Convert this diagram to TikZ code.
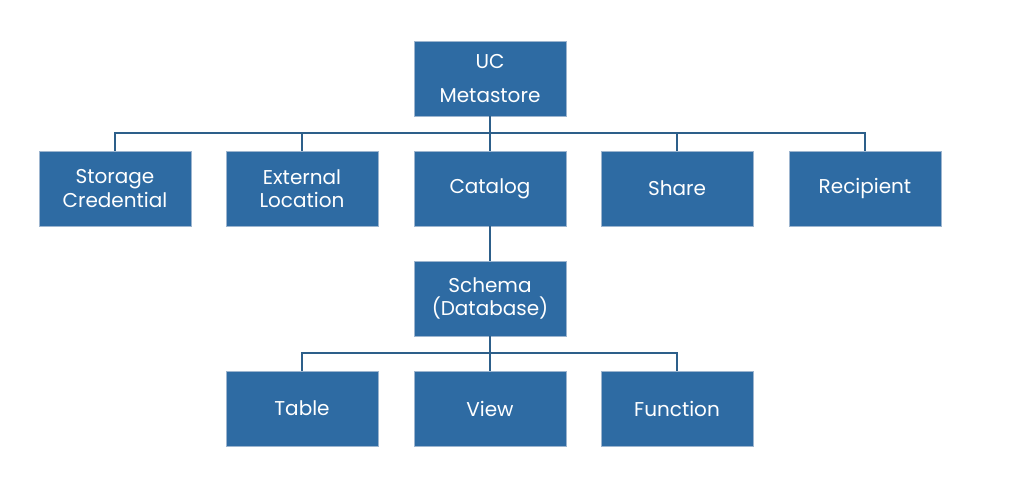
\documentclass[tikz,border=0pt]{standalone}
\usepackage{fontspec}
\setmainfont{Poppins}
\definecolor{boxblue}{HTML}{2E6BA3}
\definecolor{boxedge}{HTML}{9DB5CF}
\definecolor{linkblue}{HTML}{2D5F8A}
\tikzset{
  ucbox/.style={draw=boxedge,line width=0.5pt,fill=boxblue,text=white,minimum width=114pt,minimum height=56.25pt,inner sep=0.75pt,align=center,font=\fontsize{15}{17.5}\selectfont},
  uclink/.style={draw=linkblue,line width=1.5pt}
}
\begin{document}
\begin{tikzpicture}[x=0.75pt,y=0.75pt,yscale=-1,xscale=1]
\useasboundingbox (0,0) rectangle (1025,492);

% Root
\node [ucbox,font=\fontsize{15}{25}\selectfont] (metastore) at (490,78.5) {UC\\Metastore};

% Second level
\node [ucbox] (storage) at (115,188.5) {Storage\\Credential};
\node [ucbox] (extloc) at (302,188.5) {External\\Location};
\node [ucbox] (catalog) at (490,188.5) {Catalog};
\node [ucbox] (share) at (677,188.5) {Share};
\node [ucbox] (recipient) at (865,188.5) {Recipient};

% Schema
\node [ucbox] (schema) at (490,298.5) {Schema\\(Database)};

% Leaves
\node [ucbox] (table) at (302,408.5) {Table};
\node [ucbox] (view) at (490,408.5) {View};
\node [ucbox] (function) at (677,408.5) {Function};

% Junctions
\coordinate (busA) at (490,133);
\coordinate (busB) at (490,353);

% Links
\draw [uclink] (metastore.south) -- (busA);
\foreach \n in {storage,extloc,catalog,share,recipient}
  \draw [uclink] (busA) -| (\n.north);
\draw [uclink] (catalog.south) -- (schema.north);
\draw [uclink] (schema.south) -- (busB);
\foreach \n in {table,view,function}
  \draw [uclink] (busB) -| (\n.north);

\end{tikzpicture}
\end{document}
